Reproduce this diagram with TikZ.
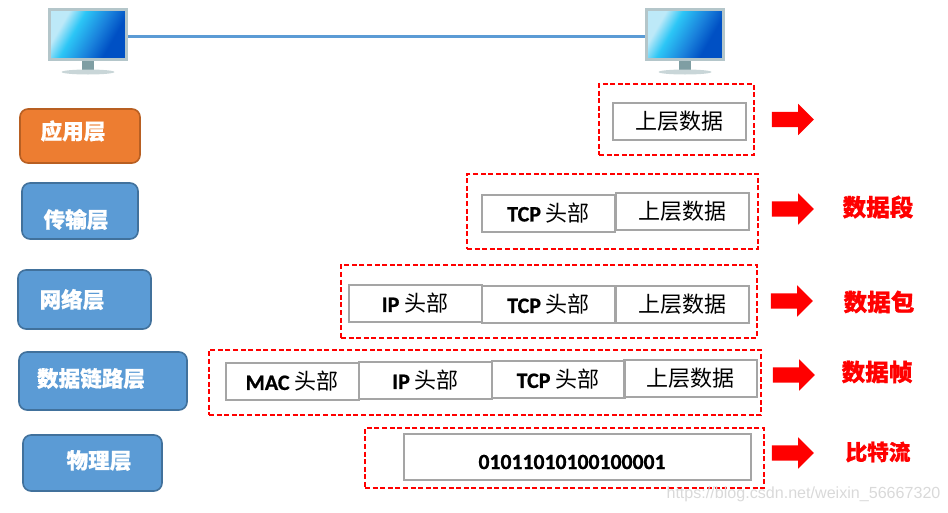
\documentclass[tikz,border=0pt]{standalone}
\usepackage{fontspec}
\setmainfont[BoldFeatures={FakeBold=0.8}]{Carlito}
\newfontfamily\cjk[BoldFeatures={FakeBold=0.8}]{Noto Sans CJK SC}
\newfontfamily\markfont{Liberation Sans}
\usepackage{xcolor}
\usepackage{tikz}
\usetikzlibrary{arrows.meta,positioning,calc,shapes.arrows,shapes.geometric}
\definecolor{layerblue}{HTML}{5B9BD5}
\definecolor{layeredge}{HTML}{41719C}
\definecolor{layerorange}{HTML}{ED7D31}
\definecolor{orangeedge}{HTML}{B85F22}
\definecolor{cellgray}{HTML}{A5A5A5}
\definecolor{screenpale}{HTML}{BDE9F8}
\definecolor{screencyan}{HTML}{2CC6F6}
\definecolor{screenmid}{HTML}{1A82DC}
\definecolor{screendeep}{HTML}{0050C4}
\definecolor{framegray}{HTML}{B4C6CA}
\definecolor{neckgray}{HTML}{7F9EA3}
\definecolor{basegray}{HTML}{C9D6D8}
\pgfdeclarehorizontalshading{screenfill}{100bp}{color(0bp)=(screenpale);color(29bp)=(screenpale);color(40bp)=(screencyan);color(56bp)=(screenmid);color(68bp)=(screendeep);color(100bp)=(screendeep)}
\newcommand{\hanzi}[1]{{\cjk #1}}
\newcommand{\latinhanzi}[2]{\textbf{#1}\hspace{0.22em}{\cjk #2}}

\begin{document}
\begin{tikzpicture}[x=1pt,y=-1pt,
  monitor/.style={draw=framegray,line width=3pt,minimum width=77pt,minimum height=50pt,inner sep=0pt,outer sep=1.5pt,shading=screenfill,shading angle=-30},
  stand/.style={fill=neckgray},
  standbase/.style={fill=basegray},
  link/.style={draw=layerblue,line width=3pt},
  layerbox/.style={draw=layeredge,fill=layerblue,line width=1.6pt,rounded corners=8pt,inner sep=0pt,outer sep=0pt},
  layertext/.style={font=\fontsize{21.6}{22}\selectfont\cjk\bfseries,text=white,inner sep=0pt},
  cell/.style={draw=cellgray,line width=2pt,minimum width=133pt,minimum height=37pt,inner sep=0pt,outer sep=0pt,font=\fontsize{22}{22}\selectfont},
  frame/.style={draw=red,line width=1.8pt,dash pattern=on 5pt off 2.6pt,inner sep=0pt,outer sep=0pt},
  bigarrow/.style={single arrow,fill=red,minimum height=42pt,minimum width=31pt,single arrow head extend=8pt,text height=15pt,text depth=0pt,text width=1pt,inner sep=0pt,outer sep=0pt},
  pdu/.style={font=\fontsize{23.6}{24}\selectfont\cjk\bfseries,text=red,inner sep=0pt}
]
\useasboundingbox (0,0) rectangle (948,512);
\node[stand,minimum width=12pt,minimum height=10pt,inner sep=0pt] (neckA) at (88,66) {};
\node[stand,minimum width=12pt,minimum height=10pt,inner sep=0pt] (neckB) at (685,66) {};
\node[standbase,ellipse,minimum width=53pt,minimum height=5pt,inner sep=0pt] (baseA) at (88,72) {};
\node[standbase,ellipse,minimum width=53pt,minimum height=5pt,inner sep=0pt] (baseB) at (685,72) {};
\node[monitor] (pcA) at (88,34.5) {};
\node[monitor] (pcB) at (685,34.5) {};
\draw[link] ([yshift=-1.5pt]pcA.east) -- ([yshift=-1.5pt]pcB.west);

\node[layerbox,fill=layerorange,draw=orangeedge,minimum width=120pt,minimum height=54pt] (app) at (80,136) {};
\node[layerbox,minimum width=116pt,minimum height=56pt] (trans) at (80,211) {};
\node[layerbox,minimum width=133pt,minimum height=59pt] (net) at (84.5,299.5) {};
\node[layerbox,minimum width=168pt,minimum height=58pt] (link) at (103,381) {};
\node[layerbox,minimum width=139pt,minimum height=56pt] (phy) at (92.5,463) {};
\node[layertext] (apptext) at (73,131) {应用层};
\node[layertext] (transtext) at (76,219.5) {传输层};
\node[layertext] (nettext) at (72,299.5) {网络层};
\node[layertext] (linktext) at (91,378.5) {数据链路层};
\node[layertext] (phytext) at (99,460.5) {物理层};

\node[frame,minimum width=155pt,minimum height=71pt] (frameA) at (676.5,119.5) {};
\node[frame,minimum width=291pt,minimum height=75pt] (frameB) at (612.5,211.5) {};
\node[frame,minimum width=416pt,minimum height=73pt] (frameC) at (549,301.5) {};
\node[frame,minimum width=552pt,minimum height=65pt] (frameD) at (485,382.5) {};
\node[frame,minimum width=399pt,minimum height=60pt] (frameE) at (564.5,458) {};

\node[cell] (dataA) at (679.5,121.5) {\hanzi{上层数据}};

\node[cell] (tcpB) at (548.5,213) {\latinhanzi{TCP}{头部}};
\node[cell] (dataB) at (682,211.5) {\hanzi{上层数据}};

\node[cell] (ipC) at (415,303.5) {\latinhanzi{IP}{头部}};
\node[cell] (tcpC) at (548.5,304.5) {\latinhanzi{TCP}{头部}};
\node[cell] (dataC) at (682,304.5) {\hanzi{上层数据}};

\node[cell] (macD) at (292,381.5) {\latinhanzi{MAC}{头部}};
\node[cell] (ipD) at (425.5,380.5) {\latinhanzi{IP}{头部}};
\node[cell] (tcpD) at (558,379.5) {\latinhanzi{TCP}{头部}};
\node[cell] (dataD) at (690.5,378.5) {\hanzi{上层数据}};

\node[cell,minimum width=347pt,minimum height=46pt] (bitsE) at (577.5,457) {};
\node[inner sep=0pt,font=\fontsize{21.7}{22}\selectfont\bfseries] (bitstext) at (572,462) {01011010100100001};

\node[bigarrow] (arrowA) at (789,119.5) {};
\node[bigarrow] (arrowB) at (789,209) {};
\node[bigarrow] (arrowC) at (788,301) {};
\node[bigarrow] (arrowD) at (790,375) {};
\node[bigarrow] (arrowE) at (789,453) {};

\node[pdu] (pduB) at (878,207) {数据段};
\node[pdu] (pduC) at (879,302) {数据包};
\node[pdu] (pduD) at (877,372) {数据帧};
\node[font=\fontsize{21.6}{22}\selectfont\cjk\bfseries,text=red,inner sep=0pt] (pduE) at (878,452) {比特流};

\node[inner sep=0pt,font=\fontsize{16.1}{17}\selectfont\markfont,text=gray!30] (mark) at (803.5,494) {https://blog.csdn.net/weixin\_56667320};
\end{tikzpicture}
\end{document}
